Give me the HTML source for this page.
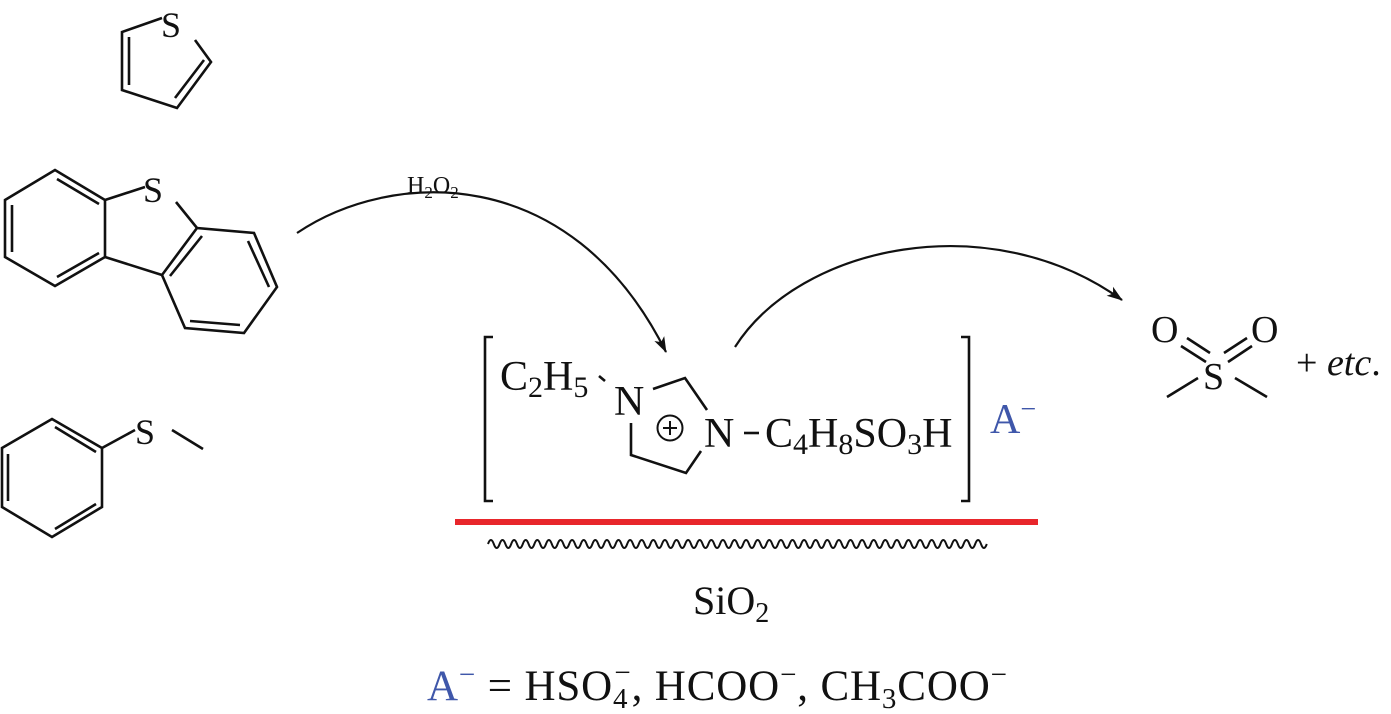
<!DOCTYPE html>
<html><head><meta charset="utf-8"><style>
html,body{margin:0;padding:0;background:#fff;}
svg{display:block;}
text{font-family:"Liberation Serif",serif;fill:#111;}
</style></head><body>
<svg width="1391" height="714" viewBox="0 0 1391 714" xmlns="http://www.w3.org/2000/svg">
<defs>
<marker id="ah" viewBox="0 0 16 12" refX="15" refY="6" markerWidth="16" markerHeight="12" orient="auto" markerUnits="userSpaceOnUse">
<path d="M0,0.5 L16,6 L0,11.5 L4,6 z" fill="#111"/>
</marker>
</defs>
<g stroke="#111" stroke-width="2.6" fill="none" stroke-linecap="butt">
<path d="M162,18 L122,32 L122,90 L177,108 L211,62 L195,40"/>
<path d="M129,37 L129,85"/>
<path d="M175,98 L204,60"/>
<path d="M105,200 L55,170 L5,200 L5,257 L55,286 L105,257 Z"/>
<path d="M105,200 L145,187"/>
<path d="M105,257 L162,275"/>
<path d="M176,202 L197,228 L254,233 L277,287 L244,333 L185,328 L162,275 L197,228"/>
<path d="M12,205 L12,252"/>
<path d="M57,179 L99,204"/>
<path d="M57,277 L99,253"/>
<path d="M202,236 L170,276"/>
<path d="M248,241 L269,287"/>
<path d="M190,321 L240,325"/>
<path d="M102,448 L52,419 L2,448 L2,507 L52,537 L102,507 Z"/>
<path d="M102,448 L135,430"/>
<path d="M172,430 L203,449"/>
<path d="M55,427 L96,452"/>
<path d="M8,454 L8,501"/>
<path d="M55,529 L96,504"/>
<path d="M297,233 C390,170 570,160 666,352" stroke-width="2.2" marker-end="url(#ah)"/>
<path d="M735,347 C800,245 990,205 1122,300" stroke-width="2.2" marker-end="url(#ah)"/>
<path d="M493,337 L485,337 L485,501 L493,501"/>
<path d="M961,337 L969,337 L969,501 L961,501"/>
<path d="M599,376 L605,381"/>
<path d="M653,389 L685,378 L707,410"/>
<path d="M631,423 L631,455 L686,473 L701,451"/>
<path d="M744,433 L759,433"/>
<circle cx="670" cy="428" r="12.5" stroke-width="2"/>
<path d="M663,428 L677,428 M670,421 L670,435" stroke-width="2"/>
<path d="M1181,346 L1206,362"/>
<path d="M1187,338 L1210,353"/>
<path d="M1228,362 L1252,346"/>
<path d="M1224,353 L1247,338"/>
<path d="M1167,397 L1198,378"/>
<path d="M1235,378 L1267,397"/>
</g>
<rect x="455" y="519" width="583" height="6" fill="#e8262b"/>
<path fill="none" stroke="#111" stroke-width="2" d="M488,544 q2.9,-8 5.8,0 t5.8,0 t5.8,0 t5.8,0 t5.8,0 t5.8,0 t5.8,0 t5.8,0 t5.8,0 t5.8,0 t5.8,0 t5.8,0 t5.8,0 t5.8,0 t5.8,0 t5.8,0 t5.8,0 t5.8,0 t5.8,0 t5.8,0 t5.8,0 t5.8,0 t5.8,0 t5.8,0 t5.8,0 t5.8,0 t5.8,0 t5.8,0 t5.8,0 t5.8,0 t5.8,0 t5.8,0 t5.8,0 t5.8,0 t5.8,0 t5.8,0 t5.8,0 t5.8,0 t5.8,0 t5.8,0 t5.8,0 t5.8,0 t5.8,0 t5.8,0 t5.8,0 t5.8,0 t5.8,0 t5.8,0 t5.8,0 t5.8,0 t5.8,0 t5.8,0 t5.8,0 t5.8,0 t5.8,0 t5.8,0 t5.8,0 t5.8,0 t5.8,0 t5.8,0 t5.8,0 t5.8,0 t5.8,0 t5.8,0 t5.8,0 t5.8,0 t5.8,0 t5.8,0 t5.8,0 t5.8,0 t5.8,0 t5.8,0 t5.8,0 t5.8,0 t5.8,0 t5.8,0 t5.8,0 t5.8,0 t5.8,0 t5.8,0 t5.8,0 t5.8,0 t5.8,0 t5.8,0 t5.8,0 t5.8,0"/>
<text x="161" y="37" font-size="36">S</text>
<text x="143" y="202" font-size="36">S</text>
<text x="135" y="444" font-size="36">S</text>
<text x="407" y="193" font-size="24">H<tspan font-size="17" dy="5">2</tspan><tspan dy="-5">O</tspan><tspan font-size="17" dy="5">2</tspan></text>
<text x="500" y="390" font-size="42">C<tspan font-size="30" dy="7">2</tspan><tspan dy="-7">H</tspan><tspan font-size="30" dy="7">5</tspan></text>
<text x="614" y="415" font-size="42">N</text>
<text x="704" y="447" font-size="42">N</text>
<text x="765" y="447" font-size="42">C<tspan font-size="30" dy="7">4</tspan><tspan dy="-7">H</tspan><tspan font-size="30" dy="7">8</tspan><tspan dy="-7">SO</tspan><tspan font-size="30" dy="7">3</tspan><tspan dy="-7">H</tspan></text>
<text x="990" y="433" font-size="42" style="fill:#3f57aa">A<tspan font-size="28" dy="-15">−</tspan></text>
<text x="1151" y="342" font-size="38">O</text>
<text x="1251" y="342" font-size="38">O</text>
<text x="1203" y="389" font-size="38">S</text>
<text x="1296" y="375" font-size="38">+ <tspan font-style="italic">etc</tspan>.</text>
<text x="693" y="614" font-size="40">SiO<tspan font-size="28" dy="8">2</tspan></text>
<text x="427" y="700" font-size="43" textLength="580" lengthAdjust="spacing"><tspan style="fill:#3f57aa">A<tspan font-size="29" dy="-16">−</tspan></tspan><tspan dy="16"> = HSO</tspan><tspan font-size="29" dy="8">4</tspan><tspan font-size="29" dx="-14" dy="-26">−</tspan><tspan dy="18">, HCOO</tspan><tspan font-size="29" dy="-16">−</tspan><tspan dy="16">, CH</tspan><tspan font-size="29" dy="8">3</tspan><tspan dy="-8">COO</tspan><tspan font-size="29" dy="-16">−</tspan></text>
</svg>
</body></html>
